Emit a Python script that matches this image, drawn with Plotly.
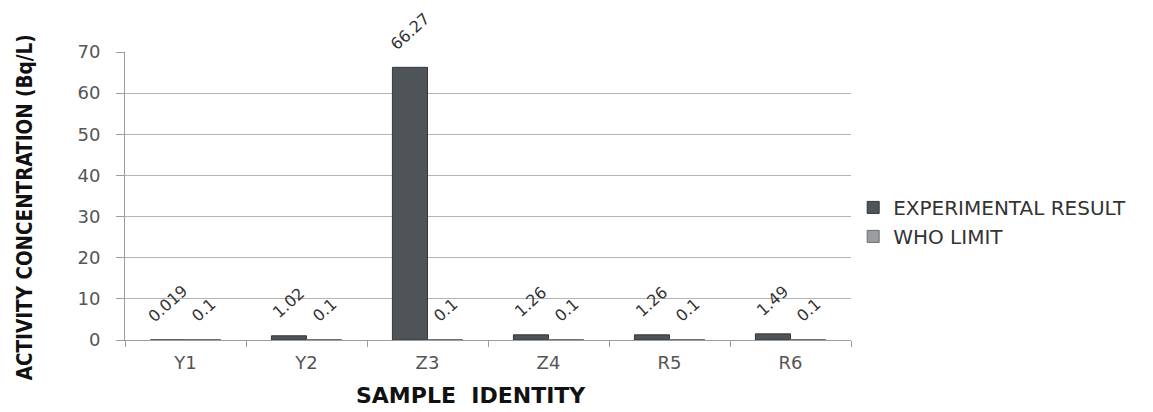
import plotly.graph_objects as go

samples = ["Y1", "Y2", "Z3", "Z4", "R5", "R6"]
experimental = [0.019, 1.02, 66.27, 1.26, 1.26, 1.49]
who_limit = [0.1, 0.1, 0.1, 0.1, 0.1, 0.1]
y_ticks = [0, 10, 20, 30, 40, 50, 60, 70]

BAR_GAP = 0.42
PLOT_W = 1153 - 125 - 302
half_bar = PLOT_W / len(samples) * (1 - BAR_GAP) / 4  # offset from category centre to each bar centre

base_font = "DejaVu Sans, Verdana, sans-serif"
label_font = dict(family=base_font, size=16, color="#333333")

fig = go.Figure()
fig.add_trace(go.Bar(
    x=samples, y=experimental, name="EXPERIMENTAL RESULT",
    marker=dict(color="#4f5458", line=dict(color="#33373a", width=1)),
))
fig.add_trace(go.Bar(
    x=samples, y=who_limit, name="WHO LIMIT",
    marker=dict(color="#9a9ea1", line=dict(color="#6a6e71", width=1)),
))

# rotated value labels above each bar
annotations = []
for series, shift in ((experimental, -half_bar), (who_limit, half_bar)):
    for cat, val in zip(samples, series):
        annotations.append(dict(
            x=cat, y=val, xref="x", yref="y", text=f"{val:g}",
            textangle=-42, xanchor="center", yanchor="bottom",
            xshift=shift, yshift=11, showarrow=False, font=label_font,
        ))

annotations += [
    dict(text="<b>ACTIVITY CONCENTRATION (Bq/L)</b>", textangle=-90,
         xref="paper", yref="paper", x=-0.138, y=0.46,
         xanchor="center", yanchor="middle", showarrow=False,
         font=dict(family="DejaVu Sans Condensed, DejaVu Sans", size=20.5, color="#111111")),
    dict(text="<b>SAMPLE  IDENTITY</b>",
         xref="paper", yref="paper", x=0.477, y=-0.243,
         xanchor="center", yanchor="bottom", showarrow=False,
         font=dict(family=base_font, size=22, color="#111111")),
]

fig.update_layout(
    width=1153, height=412,
    margin=dict(l=125, r=302, t=52, b=72),
    paper_bgcolor="white", plot_bgcolor="white",
    barmode="group", bargap=BAR_GAP, bargroupgap=0,
    font=dict(family=base_font, color="#4a4a4a"),
    legend=dict(
        x=1.003, y=0.41, xanchor="left", yanchor="middle",
        font=dict(family=base_font, size=20, color="#333333"),
        tracegroupgap=0, itemwidth=30,
    ),
    xaxis=dict(
        showline=True, linecolor="#9c9c9c", linewidth=1,
        ticks="outside", tickson="boundaries", ticklen=6, tickcolor="#9c9c9c",
        tickfont=dict(size=18, color="#555555"), ticklabelstandoff=6,
        showgrid=False,
    ),
    yaxis=dict(
        range=[0, 70], tickvals=y_ticks,
        showline=True, linecolor="#9c9c9c", linewidth=1,
        ticks="outside", ticklen=8, tickcolor="#9c9c9c",
        gridcolor="#b4b4b4", gridwidth=1,
        tickfont=dict(size=18, color="#555555"), ticklabelstandoff=12,
        zeroline=False,
    ),
    annotations=annotations,
)

fig.write_html("out.html")
